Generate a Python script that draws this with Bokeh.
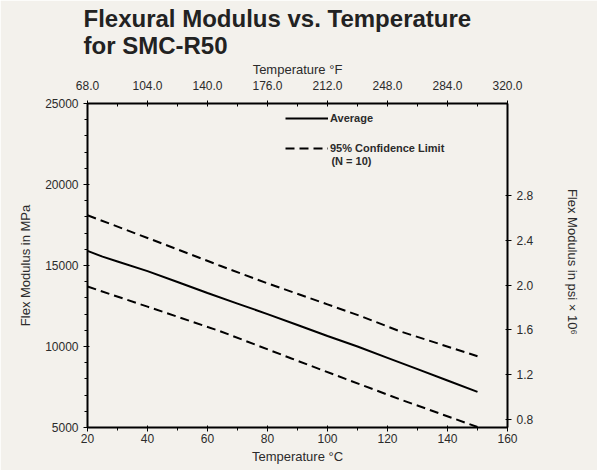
from bokeh.plotting import figure
from bokeh.models import (Range1d, LinearAxis, FixedTicker, PrintfTickFormatter,
                          Legend, LegendItem, Title, Label)
from bokeh.embed import file_html
from bokeh.resources import INLINE

# ---- data ----
temp_avg = [20, 25, 30, 40, 50, 60, 70, 80, 90, 100, 110, 120, 130, 140, 150]
mod_avg = [15900, 15550, 15250, 14650, 13980, 13300, 12650, 12000, 11330, 10650,
           10000, 9300, 8600, 7900, 7200]

temp_upper = [20, 40, 64, 80, 100, 111, 124, 150]
mod_upper = [18100, 16700, 15000, 13900, 12600, 11880, 10950, 9400]

temp_lower = [20, 40, 64, 88, 106, 124, 150]
mod_lower = [13700, 12460, 10960, 9260, 8000, 6750, 5030]

c_ticks = [20, 40, 60, 80, 100, 120, 140, 160]
c_minor = [30, 50, 70, 90, 110, 130, 150]
f_ticks = [68, 104, 140, 176, 212, 248, 284, 320]
f_minor = [86, 122, 158, 194, 230, 266, 302]
mpa_ticks = [5000, 10000, 15000, 20000, 25000]
mpa_minor = [v for v in range(6000, 25000, 1000) if v % 5000 != 0]
psi_ticks = [0.8, 1.2, 1.6, 2.0, 2.4, 2.8]
MPA_PER_MPSI = 6894.757

BG = "#f3f1ec"
INK = "#2b2b2b"
FONT = "Liberation Sans"

p = figure(width=597, height=470, output_backend="svg", toolbar_location=None,
           x_range=Range1d(20, 160), y_range=Range1d(5000, 25000),
           x_axis_location=None, y_axis_location=None,
           min_border_left=87, min_border_right=90, min_border_top=103,
           min_border_bottom=43,
           background_fill_color=BG, border_fill_color=BG)
p.outline_line_color = None
p.grid.visible = False

p.extra_x_ranges = {"F": Range1d(68, 320)}
p.extra_y_ranges = {"psi": Range1d(5000 / MPA_PER_MPSI, 25000 / MPA_PER_MPSI)}


def style(ax, size="12px"):
    ax.axis_line_width = 2
    ax.axis_line_color = "black"
    ax.major_tick_line_color = "black"
    ax.minor_tick_line_color = "black"
    ax.major_tick_line_width = 1
    ax.major_tick_out = 4
    ax.major_tick_in = 2
    ax.minor_tick_out = 3
    ax.minor_tick_in = 0
    ax.major_label_text_font = FONT
    ax.major_label_text_font_size = size
    ax.major_label_text_color = INK
    ax.major_label_standoff = 2
    ax.axis_label_text_font = FONT
    ax.axis_label_text_font_style = "normal"
    ax.axis_label_text_color = INK
    ax.axis_label_text_font_size = "13px"
    ax.axis_label_standoff = 3


bottom = LinearAxis(ticker=FixedTicker(ticks=c_ticks, minor_ticks=c_minor),
                    axis_label="Temperature °C")
style(bottom)
p.add_layout(bottom, "below")

left = LinearAxis(ticker=FixedTicker(ticks=mpa_ticks, minor_ticks=mpa_minor),
                  axis_label="Flex Modulus in MPa")
style(left)
left.major_label_standoff = 5
left.axis_label_standoff = 9
p.add_layout(left, "left")

top = LinearAxis(x_range_name="F",
                 ticker=FixedTicker(ticks=f_ticks, minor_ticks=f_minor),
                 formatter=PrintfTickFormatter(format="%.1f"),
                 axis_label="Temperature °F")
style(top)
top.major_tick_out = 3
top.major_tick_in = 3
top.minor_tick_out = 0
top.minor_tick_in = 3
top.major_label_standoff = 11
top.axis_label_standoff = 1
p.add_layout(top, "above")

right = LinearAxis(y_range_name="psi",
                   ticker=FixedTicker(ticks=psi_ticks),
                   formatter=PrintfTickFormatter(format="%.1f"),
                   axis_label="Flex Modulus in psi  ×  10⁶")
style(right)
right.major_label_standoff = 5
right.axis_label_standoff = 29
p.add_layout(right, "right")

title = Title(text="Flexural Modulus vs. Temperature\nfor SMC-R50", align="left",
              offset=-4, text_font=FONT, text_font_size="24px",
              text_font_style="bold", text_color="#222222", text_line_height=1.0,
              standoff=0)
p.add_layout(title, "above")

r_avg = p.line(temp_avg, mod_avg, line_color="black", line_width=2)
r_up = p.line(temp_upper, mod_upper, line_color="black", line_width=2,
              line_dash="9 5")
r_lo = p.line(temp_lower, mod_lower, line_color="black", line_width=2,
              line_dash="9 5")

legend = Legend(items=[LegendItem(label="Average", renderers=[r_avg]),
                       LegendItem(label="95% Confidence Limit",
                                  renderers=[r_up])],
                location=(198, 273), orientation="vertical",
                background_fill_alpha=0, border_line_color=None,
                padding=0, margin=0, spacing=18, glyph_width=43,
                glyph_height=12, label_height=12, label_standoff=2,
                label_text_font=FONT, label_text_font_size="11px",
                label_text_font_style="bold", label_text_color=INK)
p.add_layout(legend, "center")

note = Label(x=101.3, y=21420, text="(N = 10)", text_font=FONT,
             text_font_size="11px", text_font_style="bold", text_color=INK,
             text_baseline="middle", text_align="left")
p.add_layout(note)

open("out.html", "w").write(file_html(p, INLINE))
